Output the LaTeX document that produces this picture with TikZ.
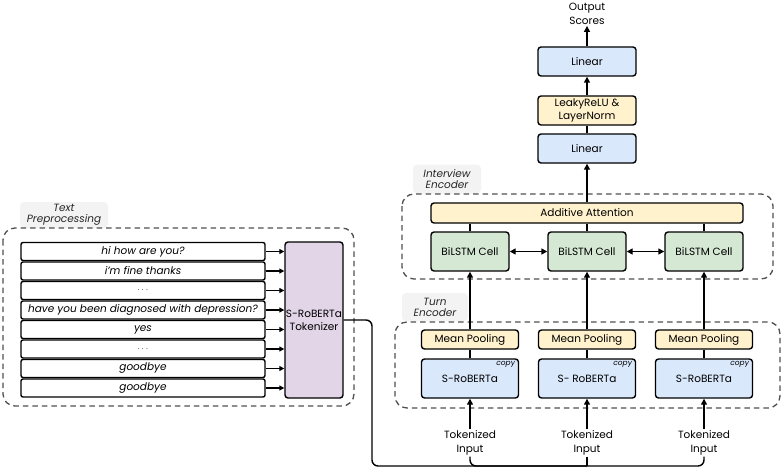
\documentclass[tikz,border=0pt]{standalone}
\usepackage{fontspec}
\setmainfont{Poppins}
\usetikzlibrary{arrows.meta}
\definecolor{cblue}{HTML}{DAE8FC}
\definecolor{cyellow}{HTML}{FFF2CC}
\definecolor{cgreen}{HTML}{D5E8D4}
\definecolor{cpurple}{HTML}{E1D5E7}
\definecolor{cdash}{HTML}{505050}
\definecolor{clbl}{HTML}{F3F3F3}
\begin{document}
\begin{tikzpicture}[x=1pt,y=-1pt,
  box/.style={draw=black, line width=1.4pt, rounded corners=3pt, inner sep=0pt, align=center, font=\fontsize{10.5}{13}\selectfont},
  rowbox/.style={draw=black, line width=1.4pt, rounded corners=2pt, inner sep=0pt, minimum width=244pt, minimum height=18pt, font=\fontsize{10.5}{12}\selectfont\itshape},
  conn/.style={line width=1.4pt, draw=black},
  arr/.style={conn, -{Triangle[length=6pt,width=6pt]}},
  sarr/.style={conn, -{Triangle[length=5pt,width=5pt]}},
  darr/.style={conn, {Triangle[length=6pt,width=6pt]}-{Triangle[length=6pt,width=6pt]}},
  grp/.style={draw=cdash, line width=1.3pt, dash pattern=on 5.5pt off 4pt, rounded corners=12pt},
  lbl/.style={fill=clbl, rounded corners=4pt, inner sep=2pt, align=center, font=\fontsize{10.5}{12}\selectfont\itshape, text=black!85},
  plain/.style={inner sep=1pt, align=center, font=\fontsize{10.5}{14}\selectfont},
  copytxt/.style={inner sep=0pt, font=\fontsize{7.5}{8}\selectfont\itshape}
]
\useasboundingbox (0,0) rectangle (784,468);

% ---------- Text preprocessing ----------
\node[lbl, minimum width=88pt, minimum height=26pt] (lblTP) at (64,215) {Text\\[-1pt]Preprocessing};
\draw[grp] (3,228) rectangle (354,406);

\node[rowbox] (r1) at (143,251.5) {hi how are you?};
\node[rowbox] (r2) at (143,271) {i'm fine thanks};
\node[rowbox] (r3) at (143,290.5) {\fontsize{7}{8}\selectfont. . .};
\node[rowbox] (r4) at (143,310) {have you been diagnosed with depression?};
\node[rowbox] (r5) at (143,329.5) {yes};
\node[rowbox] (r6) at (143,349) {\fontsize{7}{8}\selectfont. . .};
\node[rowbox] (r7) at (143,368.5) {goodbye};
\node[rowbox] (r8) at (143,388) {goodbye};

\node[box, fill=cpurple, minimum width=58pt, minimum height=156pt] (tok) at (314,320) {S-RoBERTa\\Tokenizer};

\foreach \r in {r1,r2,r3,r4,r5,r6,r7,r8}
  \draw[sarr] (\r.east) -- (\r.east -| tok.west);

% ---------- Turn encoder ----------
\node[lbl, minimum width=66pt, minimum height=28pt] (lblTE) at (435,307) {Turn\\[-1pt]Encoder};
\draw[grp] (395,322) rectangle (780,408);

\node[box, fill=cyellow, minimum width=97pt, minimum height=19pt] (mp1) at (470,339.5) {Mean Pooling};
\node[box, fill=cyellow, minimum width=97pt, minimum height=19pt] (mp2) at (587,339.5) {Mean Pooling};
\node[box, fill=cyellow, minimum width=97pt, minimum height=19pt] (mp3) at (704,339.5) {Mean Pooling};

\node[box, fill=cblue, minimum width=97pt, minimum height=39pt] (sr1) at (470,378.5) {S-RoBERTa};
\node[box, fill=cblue, minimum width=97pt, minimum height=39pt] (sr2) at (587,378.5) {S- RoBERTa};
\node[box, fill=cblue, minimum width=97pt, minimum height=39pt] (sr3) at (704,378.5) {S-RoBERTa};
\node[copytxt, anchor=north east] (cp1) at ([xshift=-4pt,yshift=-3pt]sr1.north east) {copy};
\node[copytxt, anchor=north east] (cp2) at ([xshift=-4pt,yshift=-3pt]sr2.north east) {copy};
\node[copytxt, anchor=north east] (cp3) at ([xshift=-4pt,yshift=-3pt]sr3.north east) {copy};

\draw[conn] (sr1.north) -- (mp1.south);
\draw[conn] (sr2.north) -- (mp2.south);
\draw[conn] (sr3.north) -- (mp3.south);

% ---------- Tokenized inputs ----------
\node[plain] (tin1) at (470,443) {Tokenized\\Input};
\node[plain] (tin2) at (587,443) {Tokenized\\Input};
\node[plain] (tin3) at (704,443) {Tokenized\\Input};
\draw[arr] (tin1.north) -- (sr1.south);
\draw[arr] (tin2.north) -- (sr2.south);
\draw[arr] (tin3.north) -- (sr3.south);

\coordinate (bl) at (372,466);
\draw[conn, rounded corners=6pt] (tok.east) -| (bl) -| (tin3.south);
\draw[conn, rounded corners=6pt] (tin1.south) |- (bl -| tin2.south);
\draw[conn] (tin2.south) -- (bl -| tin2.south);

% ---------- Interview encoder ----------
\node[lbl, minimum width=68pt, minimum height=29pt] (lblIE) at (447,179) {Interview\\[-1pt]Encoder};
\draw[grp] (402,194) rectangle (773,279);

\node[box, fill=cyellow, minimum width=312pt, minimum height=20pt] (att) at (587,213) {Additive Attention};
\node[box, fill=cgreen, minimum width=78pt, minimum height=39pt] (b1) at (470,251.5) {BiLSTM Cell};
\node[box, fill=cgreen, minimum width=78pt, minimum height=39pt] (b2) at (587,251.5) {BiLSTM Cell};
\node[box, fill=cgreen, minimum width=78pt, minimum height=39pt] (b3) at (704,251.5) {BiLSTM Cell};

\draw[darr] (b1.east) -- (b2.west);
\draw[darr] (b2.east) -- (b3.west);
\draw[conn] (b1.north) -- (att.south -| b1.north);
\draw[conn] (b2.north) -- (att.south -| b2.north);
\draw[conn] (b3.north) -- (att.south -| b3.north);

\draw[arr] (mp1.north) -- (b1.south);
\draw[arr] (mp2.north) -- (b2.south);
\draw[arr] (mp3.north) -- (b3.south);

% ---------- Head ----------
\node[box, fill=cblue, minimum width=98pt, minimum height=29pt] (lin1) at (587,148.5) {Linear};
\node[box, fill=cyellow, minimum width=98pt, minimum height=29pt] (act) at (587,110.5) {LeakyReLU \&\\LayerNorm};
\node[box, fill=cblue, minimum width=98pt, minimum height=29pt] (lin2) at (587,61.5) {Linear};
\node[plain] (out) at (587,14) {Output\\Scores};

\draw[arr] (att.north) -- (lin1.south);
\draw[conn] (lin1.north) -- (act.south);
\draw[arr] (act.north) -- (lin2.south);
\draw[arr] (lin2.north) -- (out.south);
\end{tikzpicture}
\end{document}
